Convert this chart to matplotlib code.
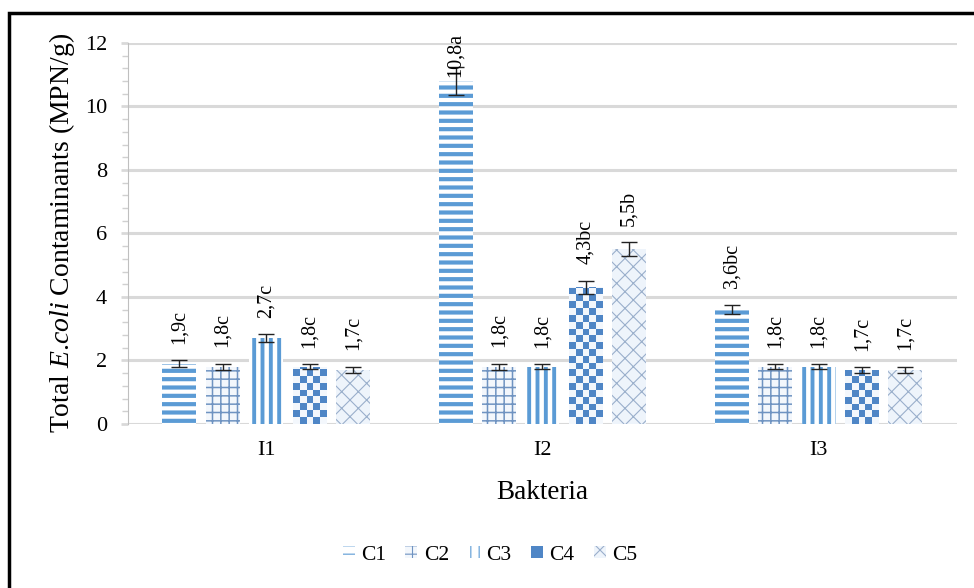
import numpy as np
import matplotlib.pyplot as plt
from matplotlib.patches import Patch, Rectangle
from matplotlib.colors import ListedColormap
from matplotlib.ticker import MultipleLocator

groups = ['I1', 'I2', 'I3']
series = ['C1', 'C2', 'C3', 'C4', 'C5']

# mean contaminants per treatment (MPN/g), one list per series
c1 = [1.9, 10.8, 3.6]
c2 = [1.8, 1.8, 1.8]
c3 = [2.7, 1.8, 1.8]
c4 = [1.8, 4.3, 1.7]
c5 = [1.7, 5.5, 1.7]

c1_err = [0.10, 0.45, 0.15]
c2_err = [0.10, 0.10, 0.08]
c3_err = [0.12, 0.08, 0.08]
c4_err = [0.08, 0.20, 0.08]
c5_err = [0.10, 0.22, 0.10]

c1_lab = ['1,9c', '10,8a', '3,6bc']
c2_lab = ['1,8c', '1,8c', '1,8c']
c3_lab = ['2,7c', '1,8c', '1,8c']
c4_lab = ['1,8c', '4,3bc', '1,7c']
c5_lab = ['1,7c', '5,5b', '1,7c']

values = [c1, c2, c3, c4, c5]
errors = [c1_err, c2_err, c3_err, c4_err, c5_err]
labels = [c1_lab, c2_lab, c3_lab, c4_lab, c5_lab]

BLUE = '#5B9BD5'
styles = [
    dict(facecolor='white', edgecolor=BLUE, hatch='--', hlw=3.0),
    dict(facecolor='#F3F7FC', edgecolor='#6F93C1', hatch='++', hlw=1.1),
    dict(facecolor='white', edgecolor=BLUE, hatch='||', hlw=2.8),
    dict(facecolor='#F3F7FC', edgecolor='#4F86C6', hatch=None, hlw=1.0),
    dict(facecolor='#EEF4FB', edgecolor='#9AAFCB', hatch='xx', hlw=0.8),
]

plt.rcParams['font.family'] = 'Liberation Serif'
plt.rcParams['mathtext.fontset'] = 'custom'
plt.rcParams['mathtext.rm'] = 'Liberation Serif'
plt.rcParams['mathtext.it'] = 'Liberation Serif:italic'

fig = plt.figure(figsize=(9.74, 5.88), dpi=100)
ax = fig.add_axes([0.1314, 0.279, 0.851, 0.648])

x = np.arange(len(groups))
slot = 0.157
width = 0.123
checker = ListedColormap(['#F3F7FC', '#4F86C6'])

for i, (vals, errs, labs, st) in enumerate(zip(values, errors, labels, styles)):
    pos = x + (i - 2) * slot
    plt.rcParams['hatch.linewidth'] = st['hlw']
    bars = ax.bar(pos, vals, width, color=st['facecolor'], edgecolor=st['edgecolor'],
                  hatch=st['hatch'], linewidth=0, zorder=3)
    if st['hatch'] is None:
        # checkerboard fill, clipped to each bar
        cell_y = 0.214
        for b, v in zip(bars, vals):
            ny = int(np.ceil(v / cell_y))
            grid = (np.add.outer(np.arange(ny), np.arange(5)) % 2)
            im = ax.imshow(grid, cmap=checker, origin='lower', aspect='auto',
                           interpolation='nearest',
                           extent=(b.get_x(), b.get_x() + width, 0, ny * cell_y),
                           zorder=3)
            im.set_clip_path(b)
    ax.errorbar(pos, vals, yerr=errs, fmt='none', ecolor='#222222', elinewidth=1,
                capsize=6, capthick=1, zorder=4)
    for p, v, e, lab in zip(pos, vals, errs, labs):
        # labels that would run past the top sit on the bar itself
        if v + e > 11:
            ax.annotate(lab, (p, v), xytext=(0, 3), textcoords='offset points',
                        rotation=90, ha='center', va='bottom', fontsize=14.5,
                        annotation_clip=False, zorder=5)
        else:
            ax.annotate(lab, (p, v + e), xytext=(0, 12), textcoords='offset points',
                        rotation=90, ha='center', va='bottom', fontsize=14.5,
                        annotation_clip=False, zorder=5)

ax.set_xlim(-0.5, 2.5)
ax.set_ylim(0, 12)
ax.set_yticks(np.arange(0, 13, 2))
ax.yaxis.set_minor_locator(MultipleLocator(0.4))
ax.set_xticks(x)
ax.set_xticklabels(groups)
ax.grid(axis='y', color='#D9D9D9', linewidth=2.2, zorder=0)
for s in ['top', 'right', 'bottom']:
    ax.spines[s].set_visible(False)
ax.spines['left'].set_color('#BFBFBF')
ax.axhline(0, color='#D9D9D9', linewidth=1.2, zorder=1)
ax.tick_params(axis='y', which='major', length=5, color='#D9D9D9', width=2, labelsize=16, pad=10)
ax.tick_params(axis='y', which='minor', length=4, color='#D0D0D0', width=1)
ax.tick_params(axis='x', length=0, labelsize=16, pad=12)

ax.set_ylabel('Total $\\mathit{E}$.$\\mathit{coli}$ Contaminants (MPN/g)', fontsize=20, labelpad=6)
ax.set_xlabel('Bakteria', fontsize=19.5, labelpad=15)

handles = [Patch(facecolor=st['facecolor'] if st['hatch'] else '#4F86C6',
                 edgecolor=st['edgecolor'], hatch=st['hatch'], linewidth=0)
           for st in styles]
fig.legend(handles, series, loc='center', bbox_to_anchor=(0.503, 0.056), ncol=5,
           frameon=False, fontsize=15.5, handlelength=0.55, handleheight=0.5,
           handletextpad=0.3, columnspacing=0.9)

# black frame around the chart area
fig.add_artist(Rectangle((9 / 974, -0.1), 1.2, 1.1 - 13 / 588, transform=fig.transFigure,
                         fill=False, edgecolor='black', linewidth=2.5))

fig.savefig('out.png', dpi=100)
